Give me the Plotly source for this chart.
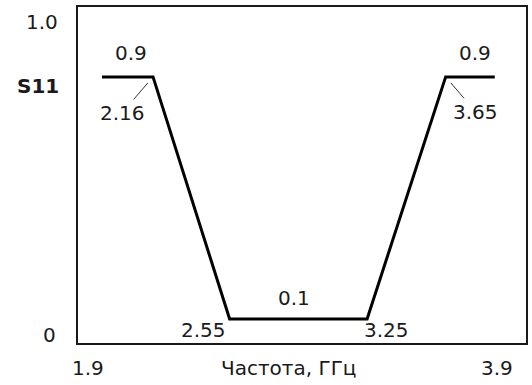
import plotly.graph_objects as go

# S11 (схематично) по частоте
freq_ghz = [1.9, 2.16, 2.55, 3.25, 3.65, 3.9]
s11 = [0.9, 0.9, 0.1, 0.1, 0.9, 0.9]

x_tick_labels = ["1.9", "3.9"]
y_tick_labels = ["1.0", "0"]
x_title = "Частота, ГГц"
y_title = "S11"

FONT = "DejaVu Sans"
TXT = dict(family=FONT, size=20, color="#1a1a1a")

fig = go.Figure()

fig.add_trace(go.Scatter(
    x=freq_ghz,
    y=s11,
    mode="lines",
    line=dict(color="black", width=3),
    hoverinfo="x+y",
))

annotations = []

# уровни на горизонтальных участках
annotations.append(dict(x=(freq_ghz[0] + freq_ghz[1]) / 2, y=s11[0], text=f"{s11[0]:.1f}",
                        xshift=4, yshift=24))
annotations.append(dict(x=(freq_ghz[2] + freq_ghz[3]) / 2, y=s11[2], text=f"{s11[2]:.1f}",
                        xshift=-4, yshift=21))
annotations.append(dict(x=(freq_ghz[4] + freq_ghz[5]) / 2, y=s11[4], text=f"{s11[4]:.1f}",
                        xshift=5, yshift=24))

# частоты в изломах
annotations.append(dict(x=freq_ghz[2], y=s11[2], text=f"{freq_ghz[2]:.2f}", xshift=-26, yshift=-11))
annotations.append(dict(x=freq_ghz[3], y=s11[3], text=f"{freq_ghz[3]:.2f}", xshift=19, yshift=-11))

# верхние изломы с выносными линиями
annotations.append(dict(x=freq_ghz[1], y=s11[1], text=f"{freq_ghz[1]:.2f}",
                        showarrow=True, arrowhead=0, arrowwidth=1, arrowcolor="#333333",
                        ax=-31, ay=36, standoff=8))
annotations.append(dict(x=freq_ghz[4], y=s11[4], text=f"{freq_ghz[4]:.2f}",
                        showarrow=True, arrowhead=0, arrowwidth=1, arrowcolor="#333333",
                        ax=30, ay=35, standoff=8))

for a in annotations:
    a.setdefault("showarrow", False)
    a.update(xref="x", yref="y", font=TXT)

# подписи осей (в координатах области построения)
paper = [
    dict(x=-0.04, y=0.955, text=y_tick_labels[0], xanchor="right"),
    dict(x=-0.044, y=0.024, text=y_tick_labels[1], xanchor="right"),
    dict(x=-0.038, y=0.765, text=f"<b>{y_title}</b>", xanchor="right"),
    dict(x=0.022, y=-0.074, text=x_tick_labels[0], xanchor="center"),
    dict(x=0.936, y=-0.074, text=x_tick_labels[1], xanchor="center"),
    dict(x=0.469, y=-0.074, text=x_title, xanchor="center"),
]
for a in paper:
    a.update(xref="paper", yref="paper", yanchor="middle", showarrow=False, font=TXT)

axis_style = dict(
    showgrid=False,
    zeroline=False,
    showticklabels=False,
    ticks="",
    showline=True,
    mirror=True,
    linecolor="#1a1a1a",
    linewidth=2,
    fixedrange=True,
)

fig.update_layout(
    width=532,
    height=385,
    margin=dict(l=78, r=4, t=7, b=42),
    paper_bgcolor="white",
    plot_bgcolor="white",
    showlegend=False,
    xaxis=dict(range=[1.778, 4.059], **axis_style),
    yaxis=dict(range=[0.0205, 1.131], **axis_style),
    annotations=annotations + paper,
    font=dict(family=FONT, size=20),
)

# убираем отступ body, чтобы рисунок начинался с левого верхнего угла окна
fig.write_html(
    "out.html",
    config={"displayModeBar": False},
    post_script="document.body.style.margin = '0';",
)
